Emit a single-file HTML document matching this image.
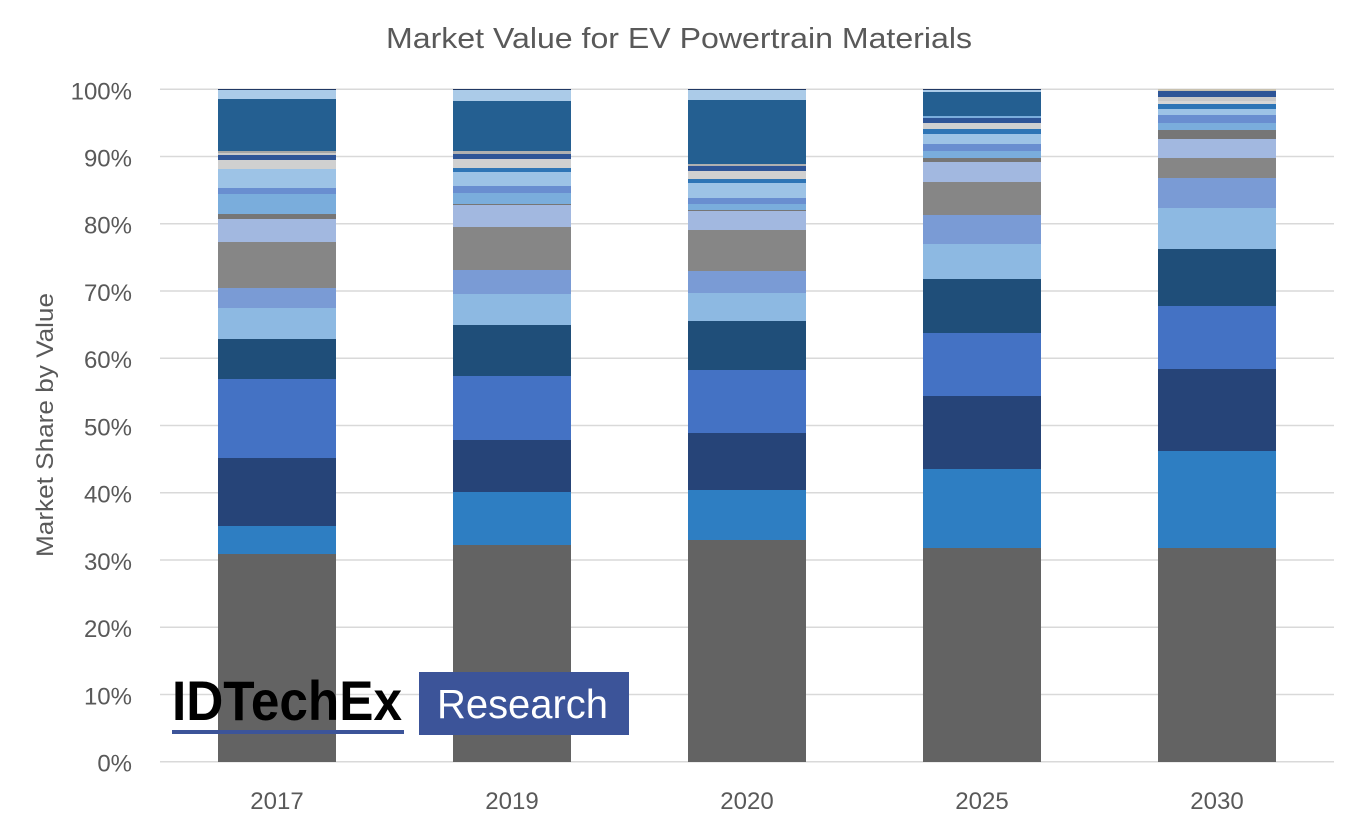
<!DOCTYPE html>
<html>
<head>
<meta charset="utf-8">
<style>
html,body{margin:0;padding:0;background:#fff;}
svg{display:block;}
text{font-family:"Liberation Sans",Arial,sans-serif;}
</style>
</head>
<body>
<svg width="1357" height="830" viewBox="0 0 1357 830" xmlns="http://www.w3.org/2000/svg">
<rect width="1357" height="830" fill="#fff"/>
<!-- title -->
<text x="386" y="48" font-size="29" fill="#595959" textLength="586" lengthAdjust="spacingAndGlyphs">Market Value for EV Powertrain Materials</text>
<!-- gridlines -->
<g stroke="#d9d9d9" stroke-width="1.5">
<line x1="160" x2="1334" y1="89.3" y2="89.3"/>
<line x1="160" x2="1334" y1="156.5" y2="156.5"/>
<line x1="160" x2="1334" y1="223.8" y2="223.8"/>
<line x1="160" x2="1334" y1="291" y2="291"/>
<line x1="160" x2="1334" y1="358.3" y2="358.3"/>
<line x1="160" x2="1334" y1="425.5" y2="425.5"/>
<line x1="160" x2="1334" y1="492.7" y2="492.7"/>
<line x1="160" x2="1334" y1="560" y2="560"/>
<line x1="160" x2="1334" y1="627.2" y2="627.2"/>
<line x1="160" x2="1334" y1="694.5" y2="694.5"/>
<line x1="160" x2="1334" y1="761.7" y2="761.7"/>
</g>
<!-- y labels -->
<g font-size="24" fill="#595959" text-anchor="end">
<text x="132" y="99.3">100%</text>
<text x="132" y="166.3">90%</text>
<text x="132" y="233.6">80%</text>
<text x="132" y="300.8">70%</text>
<text x="132" y="368.1">60%</text>
<text x="132" y="435.3">50%</text>
<text x="132" y="502.5">40%</text>
<text x="132" y="569.8">30%</text>
<text x="132" y="637">20%</text>
<text x="132" y="704.3">10%</text>
<text x="132" y="771.5">0%</text>
</g>
<!-- y axis title -->
<text transform="translate(53,425) rotate(-90)" x="-132" y="0" font-size="24" fill="#595959" textLength="264" lengthAdjust="spacingAndGlyphs">Market Share by Value</text>

<!-- 2017 -->
<g transform="translate(218,0)">
<rect y="89" width="118" height="1" fill="#203864"/>
<rect y="90" width="118" height="9" fill="#abcbe8"/>
<rect y="99" width="118" height="52" fill="#245f91"/>
<rect y="151" width="118" height="2" fill="#a5a5a5"/>
<rect y="153" width="118" height="2" fill="#c8c8c8"/>
<rect y="155" width="118" height="5" fill="#2e5597"/>
<rect y="160" width="118" height="9" fill="#d0d0d0"/>
<rect y="169" width="118" height="19" fill="#9dc3e6"/>
<rect y="188" width="118" height="6" fill="#698ed0"/>
<rect y="194" width="118" height="20" fill="#7aaddc"/>
<rect y="214" width="118" height="5" fill="#767676"/>
<rect y="219" width="118" height="23" fill="#a2b8e0"/>
<rect y="242" width="118" height="46" fill="#868686"/>
<rect y="288" width="118" height="20" fill="#7a9bd5"/>
<rect y="308" width="118" height="31" fill="#8db9e2"/>
<rect y="339" width="118" height="40" fill="#1f4e79"/>
<rect y="379" width="118" height="79" fill="#4472c4"/>
<rect y="458" width="118" height="68" fill="#264478"/>
<rect y="526" width="118" height="28" fill="#2e7ec2"/>
<rect y="554" width="118" height="208" fill="#636363"/>
</g>
<!-- 2019 -->
<g transform="translate(453,0)">
<rect y="89" width="118" height="1" fill="#203864"/>
<rect y="90" width="118" height="11" fill="#abcbe8"/>
<rect y="101" width="118" height="50" fill="#245f91"/>
<rect y="151" width="118" height="3" fill="#b0b0b0"/>
<rect y="154" width="118" height="5" fill="#2e5597"/>
<rect y="159" width="118" height="9" fill="#d0d0d0"/>
<rect y="168" width="118" height="4" fill="#2e75b6"/>
<rect y="172" width="118" height="14" fill="#9dc3e6"/>
<rect y="186" width="118" height="7" fill="#698ed0"/>
<rect y="193" width="118" height="11" fill="#7aaddc"/>
<rect y="204" width="118" height="1" fill="#767676"/>
<rect y="205" width="118" height="22" fill="#a2b8e0"/>
<rect y="227" width="118" height="43" fill="#868686"/>
<rect y="270" width="118" height="24" fill="#7a9bd5"/>
<rect y="294" width="118" height="31" fill="#8db9e2"/>
<rect y="325" width="118" height="51" fill="#1f4e79"/>
<rect y="376" width="118" height="64" fill="#4472c4"/>
<rect y="440" width="118" height="52" fill="#264478"/>
<rect y="492" width="118" height="53" fill="#2e7ec2"/>
<rect y="545" width="118" height="217" fill="#636363"/>
</g>
<!-- 2020 -->
<g transform="translate(688,0)">
<rect y="89" width="118" height="1" fill="#203864"/>
<rect y="90" width="118" height="10" fill="#abcbe8"/>
<rect y="100" width="118" height="64" fill="#245f91"/>
<rect y="164" width="118" height="2" fill="#b0b0b0"/>
<rect y="166" width="118" height="5" fill="#2e5597"/>
<rect y="171" width="118" height="8" fill="#d0d0d0"/>
<rect y="179" width="118" height="4" fill="#2e75b6"/>
<rect y="183" width="118" height="15" fill="#9dc3e6"/>
<rect y="198" width="118" height="6" fill="#698ed0"/>
<rect y="204" width="118" height="6" fill="#7aaddc"/>
<rect y="210" width="118" height="1" fill="#767676"/>
<rect y="211" width="118" height="19" fill="#a2b8e0"/>
<rect y="230" width="118" height="41" fill="#868686"/>
<rect y="271" width="118" height="22" fill="#7a9bd5"/>
<rect y="293" width="118" height="28" fill="#8db9e2"/>
<rect y="321" width="118" height="49" fill="#1f4e79"/>
<rect y="370" width="118" height="63" fill="#4472c4"/>
<rect y="433" width="118" height="57" fill="#264478"/>
<rect y="490" width="118" height="50" fill="#2e7ec2"/>
<rect y="540" width="118" height="222" fill="#636363"/>
</g>
<!-- 2025 -->
<g transform="translate(923,0)">
<rect y="89" width="118" height="1" fill="#203864"/>
<rect y="90" width="118" height="2" fill="#abcbe8"/>
<rect y="92" width="118" height="24" fill="#245f91"/>
<rect y="116" width="118" height="2" fill="#7aaddc"/>
<rect y="118" width="118" height="5" fill="#2e5597"/>
<rect y="123" width="118" height="6" fill="#d0d0d0"/>
<rect y="129" width="118" height="5" fill="#2e75b6"/>
<rect y="134" width="118" height="10" fill="#9dc3e6"/>
<rect y="144" width="118" height="7" fill="#698ed0"/>
<rect y="151" width="118" height="7" fill="#7aaddc"/>
<rect y="158" width="118" height="4" fill="#767676"/>
<rect y="162" width="118" height="20" fill="#a2b8e0"/>
<rect y="182" width="118" height="33" fill="#868686"/>
<rect y="215" width="118" height="29" fill="#7a9bd5"/>
<rect y="244" width="118" height="35" fill="#8db9e2"/>
<rect y="279" width="118" height="54" fill="#1f4e79"/>
<rect y="333" width="118" height="63" fill="#4472c4"/>
<rect y="396" width="118" height="73" fill="#264478"/>
<rect y="469" width="118" height="79" fill="#2e7ec2"/>
<rect y="548" width="118" height="214" fill="#636363"/>
</g>
<!-- 2030 -->
<g transform="translate(1158,0)">
<rect y="89" width="118" height="2" fill="#c9c2b0"/>
<rect y="91" width="118" height="6" fill="#2e5597"/>
<rect y="97" width="118" height="4" fill="#c8c8c8"/>
<rect y="101" width="118" height="3" fill="#d6d6d6"/>
<rect y="104" width="118" height="5" fill="#2e75b6"/>
<rect y="109" width="118" height="6" fill="#9dc3e6"/>
<rect y="115" width="118" height="8" fill="#698ed0"/>
<rect y="123" width="118" height="7" fill="#7aaddc"/>
<rect y="130" width="118" height="9" fill="#767676"/>
<rect y="139" width="118" height="19" fill="#a2b8e0"/>
<rect y="158" width="118" height="20" fill="#868686"/>
<rect y="178" width="118" height="30" fill="#7a9bd5"/>
<rect y="208" width="118" height="41" fill="#8db9e2"/>
<rect y="249" width="118" height="57" fill="#1f4e79"/>
<rect y="306" width="118" height="63" fill="#4472c4"/>
<rect y="369" width="118" height="82" fill="#264478"/>
<rect y="451" width="118" height="97" fill="#2e7ec2"/>
<rect y="548" width="118" height="214" fill="#636363"/>
</g>

<!-- x labels -->
<g font-size="24" fill="#595959" text-anchor="middle">
<text x="277" y="809">2017</text>
<text x="512" y="809">2019</text>
<text x="747" y="809">2020</text>
<text x="982" y="809">2025</text>
<text x="1217" y="809">2030</text>
</g>

<!-- logo -->
<text x="172" y="720" font-size="56" font-weight="bold" fill="#000" textLength="230" lengthAdjust="spacingAndGlyphs">IDTechEx</text>
<rect x="172" y="730" width="232" height="4" fill="#3c5499"/>
<rect x="419" y="672" width="210" height="63" fill="#3c5499"/>
<text x="437" y="718" font-size="41" fill="#fff" textLength="171" lengthAdjust="spacingAndGlyphs">Research</text>
</svg>
</body>
</html>
